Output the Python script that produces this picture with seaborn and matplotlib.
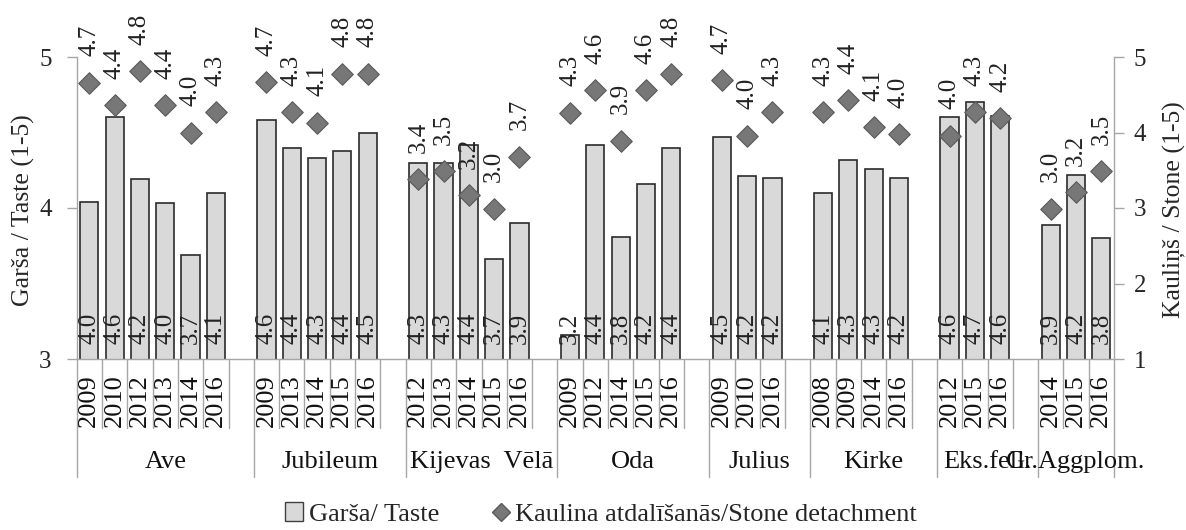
import numpy as np
import pandas as pd
import matplotlib.pyplot as plt
import matplotlib.transforms as mtransforms
from matplotlib.patches import Patch
from matplotlib.lines import Line2D
import seaborn as sns

# cultivars and years
groups = ["Ave", "Jubileum", "Kijevas  Vēlā", "Oda", "Julius", "Kirke", "Eks.fell.", "Gr.Aggplom."]
years = [
    [2009, 2010, 2012, 2013, 2014, 2016],
    [2009, 2013, 2014, 2015, 2016],
    [2012, 2013, 2014, 2015, 2016],
    [2009, 2012, 2014, 2015, 2016],
    [2009, 2010, 2016],
    [2008, 2009, 2014, 2016],
    [2012, 2015, 2016],
    [2014, 2015, 2016],
]
# Garša / Taste (left axis)
taste = [
    [4.04, 4.60, 4.19, 4.03, 3.69, 4.10],
    [4.58, 4.40, 4.33, 4.38, 4.50],
    [4.30, 4.30, 4.42, 3.66, 3.90],
    [3.16, 4.42, 3.81, 4.16, 4.40],
    [4.47, 4.21, 4.20],
    [4.10, 4.32, 4.26, 4.20],
    [4.60, 4.70, 4.61],
    [3.89, 4.22, 3.80],
]
# Kaulina atdalīšanās / Stone detachment (right axis)
stone = [
    [4.66, 4.36, 4.81, 4.36, 4.00, 4.27],
    [4.67, 4.27, 4.13, 4.78, 4.78],
    [3.38, 3.49, 3.17, 2.99, 3.68],
    [4.26, 4.56, 3.89, 4.56, 4.78],
    [4.69, 3.96, 4.27],
    [4.27, 4.43, 4.07, 3.98],
    [3.96, 4.27, 4.19],
    [2.99, 3.21, 3.49],
]

# one slot per year, one empty slot after each cultivar (except last)
rows = []
bounds = [0]
slot = 0
for gi, g in enumerate(groups):
    for y, t, s in zip(years[gi], taste[gi], stone[gi]):
        rows.append({"slot": slot, "group": g, "year": y, "taste": t, "stone": s})
        slot += 1
    if gi < len(groups) - 1:
        slot += 1
    bounds.append(slot)
df = pd.DataFrame(rows)
n_slots = slot

sns.set_theme(style="white")
plt.rcParams["font.family"] = ["Liberation Serif", "DejaVu Serif"]

grey = "#a6a6a6"
fig = plt.figure(figsize=(11.86, 5.30), dpi=100)
ax = fig.add_axes([76.7 / 1186, 1 - 359 / 530, (1114 - 76.7) / 1186, 302 / 530])

sns.barplot(data=df, x="slot", y="taste", native_scale=True, orient="x",
            width=0.72, color="#d9d9d9", edgecolor="#2b2b2b", linewidth=1.2,
            saturation=1, errorbar=None, ax=ax)
ax.set_ylim(3, 5)
ax.set_yticks([3, 4, 5])
ax.set_xlim(-0.5, n_slots - 0.5)
ax.set_xticks([])
ax.set_xlabel("")
ax.set_ylabel("")

ax2 = ax.twinx()
sns.scatterplot(data=df, x="slot", y="stone", marker="D", s=120,
                color="#777777", edgecolor="#595959", linewidth=0.8, ax=ax2, zorder=5)
ax2.set_ylim(1, 5)
ax2.set_yticks([1, 2, 3, 4, 5])
ax2.set_xlim(-0.5, n_slots - 0.5)
ax2.set_ylabel("")
ax2.set_xlabel("")

for a in (ax, ax2):
    a.spines["top"].set_visible(False)
    for sp in a.spines.values():
        sp.set_color(grey)
        sp.set_linewidth(1.0)
ax.spines["right"].set_visible(False)
ax2.spines["left"].set_visible(False)
ax2.spines["bottom"].set_visible(False)

ax.tick_params(axis="y", left=True, length=7, width=1, color=grey, pad=11, labelsize=18)
ax2.tick_params(axis="y", right=True, length=7, width=1, color=grey, pad=7, labelsize=18)

# value labels
for _, r in df.iterrows():
    ax.annotate(f"{r.taste:.1f}", xy=(r.slot, 3), xytext=(0, 11), textcoords="offset points",
                rotation=90, ha="center", va="bottom", fontsize=18, color="#222222")
    ax2.annotate(f"{r.stone:.1f}", xy=(r.slot, r.stone), xytext=(0, 19), textcoords="offset points",
                 rotation=90, ha="center", va="bottom", fontsize=18, color="#222222",
                 annotation_clip=False)

# multi-level category axis
trans = mtransforms.blended_transform_factory(ax.transData, ax.transAxes)
for k in range(n_slots + 1):
    if k in bounds:
        ax.axvline(k - 0.5, ymin=-0.391, ymax=0, color=grey, lw=1, clip_on=False)
    else:
        ax.axvline(k - 0.5, ymin=-0.228, ymax=0, color=grey, lw=1, clip_on=False)
for _, r in df.iterrows():
    ax.text(r.slot, -0.05, str(r.year), transform=trans, rotation=90,
            ha="center", va="top", fontsize=19, color="#111111")
for gi, g in enumerate(groups):
    c = (bounds[gi] + bounds[gi + 1]) / 2 - 0.5
    ax.text(c, -0.36, g, transform=trans, ha="center", va="baseline",
            fontsize=19, color="#111111")

fig.text(23 / 1186, 1 - 210 / 530, "Garša / Taste (1-5)", rotation=90,
         ha="center", va="center", fontsize=18.5)
fig.text(1174 / 1186, 1 - 210 / 530, "Kauliņš / Stone (1-5)", rotation=90,
         ha="center", va="center", fontsize=18.5)

handles = [
    Patch(facecolor="#d9d9d9", edgecolor="#404040", linewidth=1),
    Line2D([], [], marker="D", color="none", markerfacecolor="#777777",
           markeredgecolor="#595959", markersize=9),
]
fig.legend(handles, ["Garša/ Taste", "Kaulina atdalīšanās/Stone detachment"],
           loc="center", bbox_to_anchor=(601 / 1186, 1 - 514 / 530), ncol=2,
           frameon=False, fontsize=19, handlelength=0.7, handleheight=0.7,
           handletextpad=0.2, columnspacing=2.0)

fig.savefig("out.png", dpi=100)
